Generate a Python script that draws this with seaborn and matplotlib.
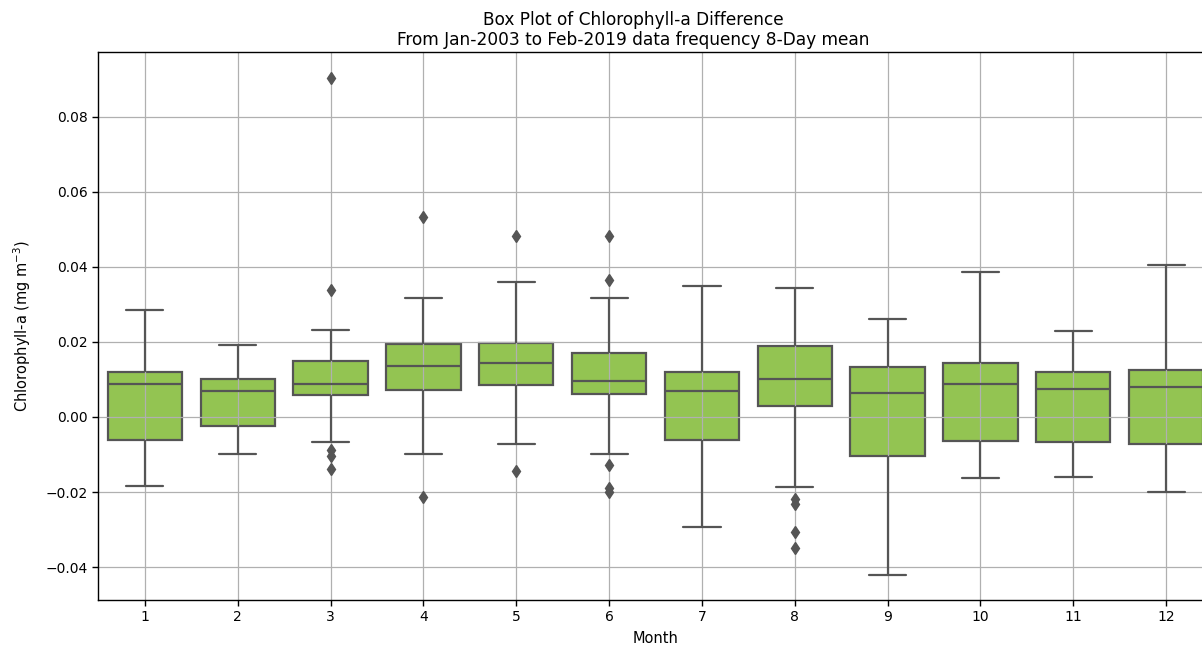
import numpy as np
import pandas as pd
import matplotlib
matplotlib.use("Agg")
import matplotlib.pyplot as plt
import seaborn as sns

months = [1, 2, 3, 4, 5, 6, 7, 8, 9, 10, 11, 12]
whisker_low = [-0.0183, -0.0098, -0.0066, -0.0100, -0.0071, -0.0100, -0.0292, -0.0186, -0.0422, -0.0162, -0.0159, -0.0201]
q1 = [-0.0062, -0.0024, 0.0058, 0.0073, 0.0085, 0.0061, -0.0062, 0.0028, -0.0103, -0.0065, -0.0068, -0.0072]
median = [0.0089, 0.0068, 0.0089, 0.0136, 0.0144, 0.0097, 0.0068, 0.0100, 0.0065, 0.0089, 0.0074, 0.0079]
q3 = [0.0121, 0.0100, 0.0150, 0.0195, 0.0197, 0.0171, 0.0121, 0.0188, 0.0132, 0.0144, 0.0121, 0.0126]
whisker_high = [0.0284, 0.0192, 0.0233, 0.0318, 0.0360, 0.0316, 0.0348, 0.0345, 0.0262, 0.0387, 0.0229, 0.0405]
outliers = {
    3: [-0.0088, -0.0104, -0.0138, 0.0338, 0.0903],
    4: [-0.0213, 0.0533],
    5: [-0.0143, 0.0483],
    6: [-0.0129, -0.0188, -0.0199, 0.0364, 0.0483],
    8: [-0.0218, -0.0232, -0.0306, -0.0350],
}

# Long-form table whose quartiles/whiskers reproduce the read box statistics
rows = []
for i, m in enumerate(months):
    vals = ([whisker_low[i]] + [q1[i]] * 20 + [median[i]] * 21 +
            [q3[i]] * 20 + [whisker_high[i]] + outliers.get(m, []))
    rows += [(m, v) for v in vals]
df = pd.DataFrame(rows, columns=["Month", "Chl"])

sns.set_style("white")
plt.rcParams["font.family"] = ["DejaVu Sans"]
plt.rcParams["text.color"] = "black"
plt.rcParams["axes.labelcolor"] = "black"

fig = plt.figure(figsize=(12.02, 6.47), dpi=100)
ax = fig.add_axes([0.0819, 0.0726, 0.9269, 0.847])

line_col = "#555555"
sns.boxplot(data=df, x="Month", y="Chl", color="#93C452", saturation=1,
            linecolor=line_col, linewidth=1.6, width=0.8, ax=ax,
            flierprops=dict(marker="d", markerfacecolor=line_col,
                            markeredgecolor=line_col, markersize=6))

for p in ax.patches:
    p.set_zorder(1)
ax.set_axisbelow("line")
ax.grid(True, color="#b0b0b0", linewidth=0.9)

ax.set_ylim(-0.0488, 0.0973)
ax.set_xlim(-0.5, 11.5)
ax.set_yticks([-0.04, -0.02, 0.0, 0.02, 0.04, 0.06, 0.08])
ax.set_yticklabels(["\u22120.04", "\u22120.02", "0.00", "0.02", "0.04", "0.06", "0.08"])
ax.tick_params(axis="both", which="both", length=4, width=1, color="black",
               labelsize=10, labelcolor="black", left=True, bottom=True)
for s in ax.spines.values():
    s.set_color("black")
    s.set_linewidth(1)
    s.set_visible(True)

ax.set_xlabel("Month", fontsize=10.5, color="black", labelpad=5)
ax.set_ylabel("Chlorophyll-a (mg m$^{-3}$)", fontsize=10.5, color="black", labelpad=9)
ax.set_title("Box Plot of Chlorophyll-a Difference\nFrom Jan-2003 to Feb-2019 data frequency 8-Day mean",
             fontsize=12.25, linespacing=1.15, color="black", pad=5, x=0.48)

fig.savefig("out.png", dpi=100)
